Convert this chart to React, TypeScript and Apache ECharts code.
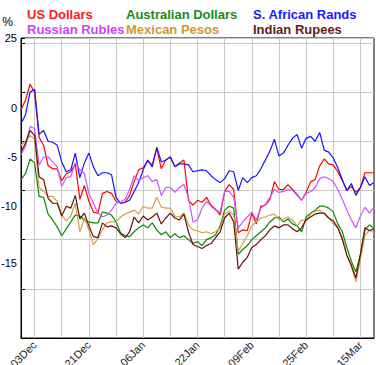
import React, { useEffect, useRef } from "react";
import * as echarts from "echarts";

// Business-day categories: 30 Nov 2020 .. 18 Mar 2021
const START_YEAR = 2020;
const START_MONTH = 10; // November (0-based)
const START_DAY = 30;
const POINT_COUNT = 79;
const MONTH_NAMES = ["Jan", "Feb", "Mar", "Apr", "May", "Jun", "Jul", "Aug", "Sep", "Oct", "Nov", "Dec"];

function buildCategories(): string[] {
  const out: string[] = [];
  const d = new Date(START_YEAR, START_MONTH, START_DAY);
  while (out.length < POINT_COUNT) {
    const wd = d.getDay();
    if (wd !== 0 && wd !== 6) {
      const dd = String(d.getDate()).padStart(2, "0");
      out.push(dd + MONTH_NAMES[d.getMonth()]);
    }
    d.setDate(d.getDate() + 1);
  }
  return out;
}
const categories = buildCategories();

const seriesNames = ["US Dollars", "Australian Dollars", "S. African Rands", "Russian Rubles", "Mexican Pesos", "Indian Rupees"];
const lineColors = ["#ff0000", "#0a870a", "#1414ff", "#cc55ff", "#d6a040", "#661111"];
const textColors = ["#ff1a1a", "#1a8a1a", "#1a1aff", "#cc44ff", "#cc9933", "#661a1a"];

const usDollars = [-1.8, -0.8, 0.8, 0, -4.6, -5.4, -7.5, -7.8, -7.8, -9.0, -8.3, -8.1, -7.3, -10.9, -9.5, -11.1, -12.2, -12.3, -10.3, -10.1, -10.3, -11.1, -11.3, -11.2, -10.5, -9.1, -7.9, -7.7, -7.0, -7.4, -5.7, -7.8, -6.9, -6.6, -7.6, -7.2, -6.9, -11.0, -11.5, -11.0, -11.2, -10.7, -11.5, -11.9, -12.5, -10.1, -9.4, -9.9, -14.3, -14.0, -14.1, -12.3, -13.4, -11.6, -11.5, -10.9, -9.1, -9.9, -9.9, -9.4, -9.9, -10.4, -11.0, -10.2, -9.1, -8.9, -7.5, -6.8, -7.3, -7.4, -8.1, -9.0, -10.0, -9.6, -10.2, -9.7, -8.2, -8.2, -8.2];
const australianDollars = [-8.9, -8.3, -6.8, -7.2, -10.6, -10.7, -12.4, -13.0, -13.7, -14.6, -13.9, -13.2, -12.5, -12.6, -13.0, -13.2, -13.3, -13.3, -12.2, -12.3, -12.5, -13.2, -14.3, -14.6, -14.7, -14.2, -13.8, -13.5, -13.8, -13.3, -14.0, -14.5, -14.2, -14.8, -14.4, -14.8, -14.6, -15.0, -15.4, -15.2, -15.6, -15.0, -14.8, -14.5, -13.6, -12.0, -11.6, -11.8, -16.5, -16.0, -15.6, -15.0, -14.6, -14.2, -13.8, -13.2, -12.8, -12.7, -13.2, -12.9, -13.4, -13.6, -14.2, -12.7, -12.3, -12.0, -11.6, -11.6, -11.8, -12.2, -13.4, -14.2, -15.8, -17.2, -18.3, -16.5, -14.0, -13.5, -13.9];
const southAfricanRands = [-3.2, -2.3, 0, 0.3, -4.3, -3.9, -5.0, -5.1, -5.4, -7.1, -8.1, -7.9, -6.2, -8.7, -7.2, -6.2, -7.6, -8.5, -8.2, -8.2, -8.4, -10.7, -11.3, -11.2, -11.0, -10.1, -9.2, -7.9, -6.9, -7.6, -5.6, -7.1, -6.9, -6.6, -7.6, -7.3, -7.3, -7.4, -8.1, -8.0, -7.9, -8.0, -8.5, -8.9, -9.2, -8.8, -8.0, -8.1, -10.0, -8.7, -9.2, -8.7, -8.5, -7.8, -6.9, -6.0, -4.8, -6.5, -6.2, -5.4, -4.7, -4.3, -5.7, -4.7, -4.5, -5.0, -4.1, -5.9, -6.1, -6.7, -7.7, -8.9, -10.0, -9.3, -10.5, -9.7, -8.6, -9.5, -9.2];
const russianRubles = [-6.4, -5.5, -3.5, -3.7, -7.4, -6.6, -6.6, -7.1, -7.6, -9.6, -8.7, -8.6, -7.2, -7.9, -8.3, -10.3, -11.3, -12.3, -12.7, -12.5, -12.0, -11.3, -11.2, -10.9, -9.9, -8.5, -9.0, -8.7, -8.5, -9.1, -8.9, -10.5, -9.7, -9.7, -10.2, -9.7, -9.4, -10.7, -13.2, -13.0, -11.8, -11.1, -11.6, -12.0, -12.2, -10.1, -10.1, -10.7, -13.8, -13.2, -12.7, -12.2, -13.0, -11.8, -11.4, -10.7, -9.9, -10.2, -10.1, -9.9, -10.0, -10.5, -11.0, -10.3, -10.1, -9.7, -8.8, -8.6, -8.8, -9.1, -9.9, -10.9, -12.0, -13.0, -13.8, -12.6, -11.7, -12.3, -11.7];
const mexicanPesos = [-5.4, -5.0, -4.4, -4.8, -9.7, -10.1, -10.6, -10.6, -11.1, -12.5, -13.1, -12.6, -11.3, -14.2, -12.8, -14.0, -15.5, -14.9, -14.0, -13.3, -13.2, -13.2, -12.7, -12.4, -12.2, -12.0, -12.4, -11.6, -11.8, -11.8, -10.7, -11.7, -11.8, -11.8, -12.6, -12.7, -12.3, -13.5, -14.0, -14.1, -14.3, -14.2, -14.4, -14.2, -13.8, -12.4, -12.1, -12.5, -16.2, -15.4, -14.6, -13.6, -13.2, -12.8, -12.7, -12.5, -12.4, -13.0, -12.9, -12.7, -13.0, -13.6, -13.0, -13.1, -12.4, -12.1, -12.0, -12.4, -12.8, -13.4, -13.8, -14.7, -16.5, -17.8, -19.3, -17.0, -14.6, -14.0, -14.3];
const indianRupees = [-6.1, -5.2, -3.9, -4.4, -8.6, -8.9, -10.8, -11.3, -11.3, -12.6, -11.6, -11.8, -10.5, -12.9, -12.3, -13.6, -14.7, -14.8, -13.3, -13.7, -13.6, -13.8, -14.4, -14.8, -14.2, -12.7, -13.3, -12.6, -13.0, -12.7, -12.3, -13.4, -12.8, -12.3, -12.8, -13.0, -12.4, -14.2, -15.5, -15.7, -15.9, -15.6, -15.4, -14.8, -14.2, -12.8, -12.3, -13.2, -18.0, -17.3, -16.8, -15.8, -15.5, -15.0, -14.6, -14.0, -13.6, -13.8, -13.5, -13.5, -13.9, -14.2, -13.8, -13.0, -12.7, -12.4, -12.3, -12.3, -12.8, -13.1, -13.8, -15.0, -16.6, -17.6, -18.9, -16.5, -13.8, -14.1, -13.9];

const seriesValues = [usDollars, australianDollars, southAfricanRands, russianRubles, mexicanPesos, indianRupees];

const Y_MIN = -25;
const Y_MAX = 5.5;
const Y_INTERVAL = 5;
const yTickValues = [5.5, 0, -5, -10, -15];
const yTickLabels = ["25", "0", "-5", "-10", "-15"];

const legendColumns = [[0, 3], [1, 4], [2, 5]];

export default function App() {
  const ref = useRef<HTMLDivElement>(null);
  useEffect(() => {
    if (!ref.current) return;
    const chart = echarts.init(ref.current, null, { renderer: "svg" });
    const legendLefts = [22, 121, 248];
    const option: any = {
      animation: false,
      textStyle: { fontFamily: "Liberation Sans" },
      legend: legendColumns.map((col, k) => ({
        left: legendLefts[k],
        top: 7,
        orient: "vertical",
        padding: 0,
        itemGap: 0,
        itemWidth: 0,
        itemHeight: 0,
        selectedMode: false,
        icon: "rect",
        textStyle: { fontSize: 13, fontWeight: "bold", fontFamily: "Liberation Sans", lineHeight: 15 },
        data: col.map((i) => ({ name: seriesNames[i], textStyle: { color: textColors[i] } })),
      })),
      grid: {
        left: 21,
        right: 2,
        top: 38,
        bottom: 27,
        show: true,
        borderColor: "#000",
        borderWidth: 1,
        outerBoundsMode: "none",
      },
      xAxis: {
        type: "category",
        data: categories,
        boundaryGap: false,
        axisLine: { onZero: false, lineStyle: { color: "#000", width: 1 } },
        axisTick: { show: false },
        splitLine: {
          show: true,
          interval: (i: number) => (i - 3) % 6 === 0,
          lineStyle: { color: "#c8c8c8", width: 1 },
        },
        axisLabel: {
          interval: (i: number) => i >= 3 && (i - 3) % 12 === 0,
          rotate: 45,
          fontSize: 11,
          color: "#222",
          margin: 5,
          fontFamily: "Liberation Sans",
        },
      },
      yAxis: {
        type: "value",
        min: Y_MIN,
        max: Y_MAX,
        interval: Y_INTERVAL,
        name: "%",
        nameLocation: "end",
        nameGap: 10,
        nameTextStyle: { fontSize: 12, color: "#000", align: "right", padding: [0, 8, 0, 0], fontFamily: "Liberation Sans" },
        axisLine: { show: true, onZero: false, lineStyle: { color: "#000", width: 1 } },
        axisTick: { show: true, inside: true, length: 4, lineStyle: { color: "#000" } },
        splitLine: { show: true, lineStyle: { color: "#c8c8c8", width: 1 } },
        axisLabel: {
          fontSize: 11,
          color: "#000",
          margin: 4,
          fontFamily: "Liberation Sans",
          formatter: (v: number) => {
            const k = yTickValues.findIndex((t) => Math.abs(t - v) < 1e-6);
            if (k < 0) return "";
            const t = yTickLabels[k];
            if (v > 5) return t;
            if (v <= -15) return `{b|${t}}`;
            return `{a|${t}}`;
          },
          rich: {
            a: { fontSize: 11, color: "#000", padding: [32, 0, 0, 0], fontFamily: "Liberation Sans" },
            b: { fontSize: 11, color: "#000", padding: [46, 0, 0, 0], fontFamily: "Liberation Sans" },
          },
        },
      },
      series: seriesNames.map((name, i) => ({
        name,
        type: "line",
        data: seriesValues[i],
        showSymbol: false,
        symbol: "none",
        color: lineColors[i],
        lineStyle: { color: lineColors[i], width: 1.2 },
        emphasis: { disabled: true },
      })),
    };
    chart.setOption(option);
    return () => chart.dispose();
  }, []);
  return <div ref={ref} style={{ width: 376, height: 365, position: "absolute", left: 0, top: 0 }} />;
}
